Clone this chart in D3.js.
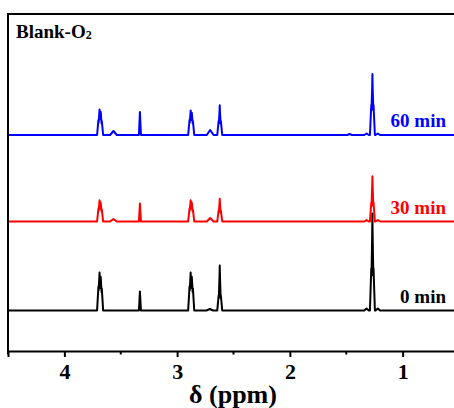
<!DOCTYPE html>
<html>
<head>
<meta charset="utf-8">
<script src="https://cdn.jsdelivr.net/npm/d3@7"></script>
<style>
  body { margin: 0; background: #fff; }
  svg text { font-family: "Liberation Serif", "Times New Roman", serif; font-weight: bold; }
</style>
</head>
<body>
<div id="chart"></div>
<script>
const width = 454;
const height = 408;

// peaks: [ppm, intensity, linewidth (ppm)]
const spec0 = [
  [3.698, 24, 0.012], [3.688, 34, 0.008], [3.678, 30, 0.008], [3.668, 22, 0.012],
  [3.33, 19, 0.009],
  [2.890, 24, 0.012], [2.880, 34, 0.008], [2.870, 30, 0.008], [2.860, 22, 0.012],
  [2.71, 1.5, 0.03],
  [2.632, 15, 0.012], [2.622, 40, 0.008], [2.612, 15, 0.012],
  [1.32, 2, 0.02], [1.278, 42, 0.012], [1.268, 83, 0.008], [1.258, 42, 0.012], [1.22, 2, 0.02]
];
const spec30 = [
  [3.698, 13, 0.012], [3.688, 19, 0.008], [3.678, 17, 0.008], [3.668, 12, 0.012],
  [3.565, 2.5, 0.03],
  [3.33, 18, 0.009],
  [2.890, 13, 0.012], [2.880, 19, 0.008], [2.870, 17, 0.008], [2.860, 12, 0.012],
  [2.707, 3.5, 0.03],
  [2.632, 11, 0.012], [2.622, 19, 0.008], [2.612, 11, 0.012],
  [1.32, 1.5, 0.02], [1.278, 19, 0.012], [1.268, 39, 0.008], [1.258, 19, 0.012], [1.22, 1.5, 0.02]
];
const spec60 = [
  [3.698, 15, 0.012], [3.688, 23, 0.008], [3.678, 21, 0.008], [3.668, 14, 0.012],
  [3.565, 4, 0.03],
  [3.33, 23, 0.009],
  [2.890, 15, 0.012], [2.880, 22, 0.008], [2.870, 20, 0.008], [2.860, 14, 0.012],
  [2.707, 5, 0.03],
  [2.632, 14, 0.012], [2.622, 25, 0.008], [2.612, 14, 0.012],
  [1.47, 1, 0.02], [1.32, 1.5, 0.02], [1.278, 30, 0.012], [1.268, 51, 0.008], [1.258, 30, 0.012], [1.22, 1.5, 0.02]
];

const seriesNames = ['0 min', '30 min', '60 min'];
const seriesData = [spec0, spec30, spec60];
const seriesOffsets = [0, 89, 175.5];
const seriesColors = ['#000000', '#ff0000', '#0000ff'];

const majorTicks = [4, 3, 2, 1];
const minorTicks = [4.5, 3.5, 2.5, 1.5];

const svg = d3.select('#chart').append('svg').attr('width', width).attr('height', height);

const x = d3.scaleLinear().domain([4.5, 0.5]).range([8, 459]);
const y = d3.scaleLinear().domain([-40.5, 296.5]).range([351, 14]);

// turn the peak list into a piecewise line
function spectrum(peaks) {
  let xs = [x.domain()[0], x.domain()[1]];
  peaks.forEach(p => { xs.push(p[0] - p[2], p[0], p[0] + p[2]); });
  xs.sort((a, b) => b - a);
  return xs.map(v => {
    let s = 0;
    peaks.forEach(p => { s += Math.max(0, p[1] * (1 - Math.abs(v - p[0]) / p[2])); });
    return [v, s];
  });
}

const g = svg.append('g');

seriesData.forEach((peaks, i) => {
  const line = d3.line()
    .x(d => x(d[0]))
    .y(d => y(d[1] + seriesOffsets[i]));
  g.append('path')
    .attr('d', line(spectrum(peaks)))
    .attr('fill', 'none')
    .attr('stroke', seriesColors[i])
    .attr('stroke-width', 2)
    .attr('stroke-linejoin', 'round');

  g.append('text')
    .attr('x', 446)
    .attr('y', y(seriesOffsets[i]) - 8)
    .attr('text-anchor', 'end')
    .attr('font-size', 19)
    .attr('fill', seriesColors[i])
    .text(seriesNames[i]);
});

// frame
svg.append('path')
  .attr('d', 'M' + x(4.5) + ',' + y.range()[0] + 'V' + y.range()[1] + 'H' + (x(0.5) + 2))
  .attr('fill', 'none')
  .attr('stroke', '#000')
  .attr('stroke-width', 2);

// x axis
const xAxis = svg.append('g')
  .attr('transform', 'translate(0,' + y.range()[0] + ')')
  .call(d3.axisBottom(x).tickValues(majorTicks).tickSize(6).tickPadding(6).tickFormat(d3.format('d')));
xAxis.select('.domain').attr('stroke-width', 2);
xAxis.selectAll('.tick line').attr('stroke-width', 2);
xAxis.selectAll('.tick text')
  .attr('font-size', 22)
  .attr('font-family', '"Liberation Serif", serif')
  .attr('font-weight', 'bold')
  .attr('fill', '#000');

svg.append('g')
  .attr('transform', 'translate(0,' + y.range()[0] + ')')
  .selectAll('line')
  .data(minorTicks)
  .enter().append('line')
  .attr('x1', d => x(d)).attr('x2', d => x(d))
  .attr('y1', 0).attr('y2', 3.5)
  .attr('stroke', '#000')
  .attr('stroke-width', 2);

svg.append('text')
  .attr('x', 233)
  .attr('y', 403)
  .attr('text-anchor', 'middle')
  .attr('font-size', 26)
  .text('δ (ppm)');

const title = svg.append('text')
  .attr('x', 16)
  .attr('y', 38)
  .attr('font-size', 19);
title.append('tspan').text('Blank-O');
title.append('tspan').attr('font-size', 12).attr('dy', 1).text('2');
</script>
</body>
</html>
